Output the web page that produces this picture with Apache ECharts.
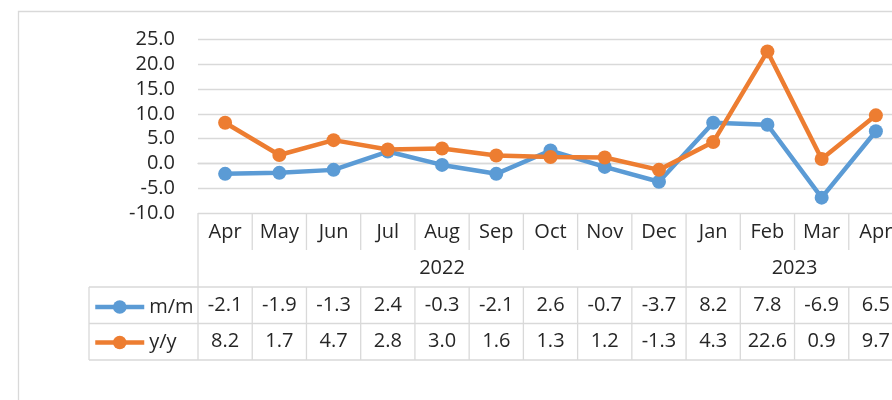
<!DOCTYPE html>
<html>
<head>
<meta charset="utf-8">
<script src="https://cdn.jsdelivr.net/npm/echarts@6/dist/echarts.min.js"></script>
<style>
  html, body { margin: 0; padding: 0; background: #fff; overflow: hidden; }
  /* the table runs past the right edge of the picture, as in the original */
  #chart { width: 912px; height: 400px; }
</style>
</head>
<body>
<div id="chart"></div>
<script>
const months = ['Apr', 'May', 'Jun', 'Jul', 'Aug', 'Sep', 'Oct', 'Nov', 'Dec', 'Jan', 'Feb', 'Mar', 'Apr']
const years = [
    { label: '2022', from: 0, to: 8 },
    { label: '2023', from: 9, to: 12 }
]
const mm = [-2.1, -1.9, -1.3, 2.4, -0.3, -2.1, 2.6, -0.7, -3.7, 8.2, 7.8, -6.9, 6.5]
const yy = [8.2, 1.7, 4.7, 2.8, 3.0, 1.6, 1.3, 1.2, -1.3, 4.3, 22.6, 0.9, 9.7]
const yTicks = [-10, 25, 5]

const blue = '#5B9BD5'
const orange = '#ED7D31'
const gridColor = '#D9D9D9'
const textColor = '#262626'
const font = "'Open Sans', 'Liberation Sans', sans-serif"

const chart = echarts.init(document.getElementById('chart'))

const option = {
    animation: false,
    backgroundColor: '#fff',
    grid: { left: 198, width: 705, top: 39.5, bottom: 187, containLabel: false },
    legend: {
        orient: 'vertical',
        left: 93,
        top: 297,
        padding: 0,
        itemWidth: 49,
        itemHeight: 17,
        itemGap: 15.5,
        lineStyle: { width: 4.5 },
        textStyle: { fontSize: 20, color: textColor, fontFamily: font },
        data: ['m/m', 'y/y']
    },
    xAxis: {
        type: 'category',
        data: months,
        boundaryGap: true,
        axisLine: { lineStyle: { color: gridColor, width: 1.3 } },
        axisTick: { show: false },
        axisLabel: { fontSize: 20, color: textColor, fontFamily: font, margin: 19, verticalAlign: 'middle' }
    },
    yAxis: {
        type: 'value',
        min: yTicks[0],
        max: yTicks[1],
        interval: yTicks[2],
        axisLine: { show: false },
        axisTick: { show: false },
        splitLine: { lineStyle: { color: gridColor, width: 1.3 } },
        axisLabel: {
            fontSize: 20, color: textColor, fontFamily: font, margin: 23,
            formatter: (v) => v.toFixed(1)
        }
    },
    series: [
        {
            name: 'm/m',
            type: 'line',
            data: mm,
            symbol: 'circle',
            symbolSize: 14,
            lineStyle: { color: blue, width: 4.5 },
            itemStyle: { color: blue }
        },
        {
            name: 'y/y',
            type: 'line',
            data: yy,
            symbol: 'circle',
            symbolSize: 14,
            lineStyle: { color: orange, width: 4.5 },
            itemStyle: { color: orange }
        }
    ]
}
chart.setOption(option)

// data table below the axis, positioned from the category axis
const x0 = chart.convertToPixel({ xAxisIndex: 0 }, 0)
const x1 = chart.convertToPixel({ xAxisIndex: 0 }, 1)
const colW = x1 - x0
const left = x0 - colW / 2
const right = left + colW * months.length
const axisY = chart.convertToPixel({ yAxisIndex: 0 }, yTicks[0])
const rowMonth = axisY + 37
const rowYear = axisY + 74
const rowMM = rowYear + 36.5
const rowYY = rowMM + 36.5
const legendLeft = 89

const lineStyle = { stroke: gridColor, lineWidth: 1.3 }
const graphics = []
const hline = (xa, xb, y) => graphics.push({ type: 'line', shape: { x1: xa, y1: y, x2: xb, y2: y }, style: lineStyle, silent: true })
const vline = (x, ya, yb) => graphics.push({ type: 'line', shape: { x1: x, y1: ya, x2: x, y2: yb }, style: lineStyle, silent: true })
const text = (t, x, y) => graphics.push({
    type: 'text', x: x, y: y,
    style: { text: t, fontSize: 20, fill: textColor, fontFamily: font, align: 'center', verticalAlign: 'middle' },
    silent: true
})

// outer chart border
graphics.push({ type: 'rect', shape: { x: 18.5, y: 11.5, width: 1000, height: 600 }, style: { fill: null, stroke: gridColor, lineWidth: 1.3 }, silent: true })

// horizontal rules
hline(legendLeft, right, rowYear)
hline(legendLeft, right, rowMM)
hline(legendLeft, right, rowYY)
// left edges
vline(left, axisY, rowYY)
vline(legendLeft, rowYear, rowYY)
// month row and value rows: every column border
for (let i = 1; i <= months.length; i++) {
    vline(left + colW * i, axisY, rowMonth)
    vline(left + colW * i, rowYear, rowYY)
}
// year row: group borders and labels
years.forEach((yr) => {
    const a = left + colW * yr.from
    const b = left + colW * (yr.to + 1)
    vline(b, rowMonth, rowYear)
    text(yr.label, (a + b) / 2, (rowMonth + rowYear) / 2)
})
// values
months.forEach((m, i) => {
    const cx = chart.convertToPixel({ xAxisIndex: 0 }, i)
    text(mm[i].toFixed(1), cx, (rowYear + rowMM) / 2)
    text(yy[i].toFixed(1), cx, (rowMM + rowYY) / 2)
})

chart.setOption({ graphic: graphics })
</script>
</body>
</html>
